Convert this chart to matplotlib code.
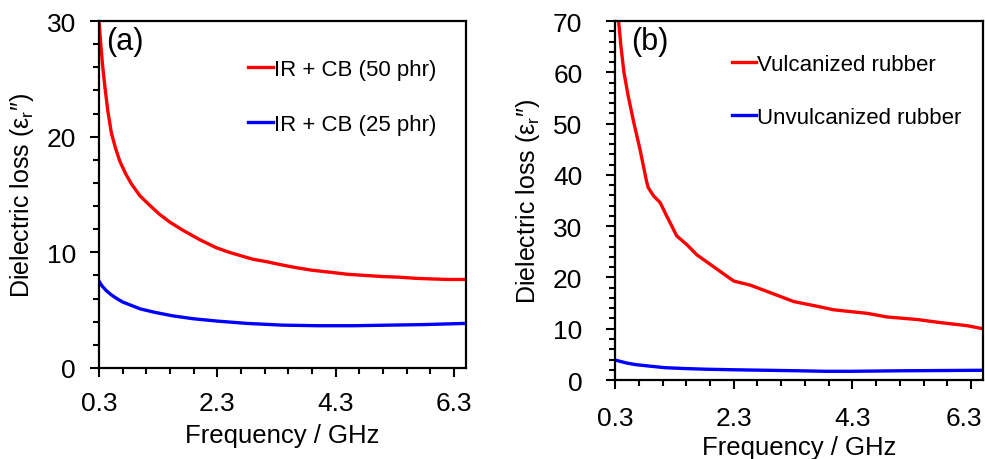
import matplotlib
matplotlib.use("Agg")
import matplotlib.pyplot as plt
from matplotlib.ticker import MultipleLocator, FixedLocator
from matplotlib.transforms import ScaledTranslation

plt.rcParams['font.family'] = ['Liberation Sans', 'DejaVu Sans']
plt.rcParams['mathtext.fontset'] = 'custom'
plt.rcParams['mathtext.rm'] = 'Liberation Sans'
plt.rcParams['mathtext.it'] = 'Liberation Sans'

# Panel (a)
freq_a_red = [0.30, 0.33, 0.36, 0.40, 0.45, 0.51, 0.58, 0.65, 0.75, 0.85, 0.99, 1.15, 1.32, 1.50, 1.72, 2.00, 2.28,
              2.50, 2.70, 2.90, 3.12, 3.40, 3.60, 3.90, 4.25, 4.50, 4.80, 5.10, 5.37, 5.65, 5.90, 6.20, 6.49]
loss_a_red = [30.0, 28.0, 26.2, 24.3, 22.2, 20.3, 19.0, 17.9, 16.8, 15.9, 14.9, 14.1, 13.3, 12.6, 11.9, 11.1, 10.4,
              10.0, 9.7, 9.4, 9.2, 8.9, 8.7, 8.45, 8.25, 8.1, 8.0, 7.9, 7.85, 7.75, 7.7, 7.65, 7.65]
freq_a_blue = [0.30, 0.35, 0.42, 0.50, 0.60, 0.70, 0.80, 0.90, 1.00, 1.25, 1.55, 1.90, 2.30, 2.80, 3.40, 4.00,
               4.60, 5.20, 5.80, 6.49]
loss_a_blue = [7.5, 7.1, 6.7, 6.35, 6.0, 5.7, 5.5, 5.3, 5.1, 4.8, 4.5, 4.25, 4.05, 3.85, 3.7, 3.65,
               3.65, 3.7, 3.75, 3.85]

# Panel (b)
freq_b_red = [0.36, 0.40, 0.45, 0.52, 0.62, 0.72, 0.80, 0.83, 0.86, 0.95, 1.06, 1.17, 1.34, 1.51, 1.68, 2.02, 2.30,
              2.58, 2.97, 3.31, 3.70, 3.98, 4.55, 4.88, 5.39, 5.78, 6.23, 6.50]
loss_b_red = [70.0, 65.0, 60.0, 55.5, 50.0, 45.0, 40.5, 38.8, 37.5, 35.9, 34.6, 32.0, 28.1, 26.4, 24.4, 21.6, 19.3,
              18.5, 16.8, 15.3, 14.4, 13.7, 13.0, 12.3, 11.8, 11.2, 10.6, 10.0]
freq_b_blue = [0.30, 0.40, 0.50, 0.65, 0.89, 1.15, 1.45, 1.85, 2.30, 2.85, 3.40, 3.85, 4.27, 4.70, 5.10, 5.80, 6.50]
loss_b_blue = [3.9, 3.6, 3.3, 3.0, 2.7, 2.4, 2.25, 2.1, 2.0, 1.9, 1.8, 1.7, 1.7, 1.75, 1.8, 1.85, 1.9]

xticks = [0.3, 2.3, 4.3, 6.3]
red = '#ff0000'
blue = '#0000ff'

fig = plt.figure(figsize=(9.85, 4.6), dpi=100)
ax_a = fig.add_axes([0.1005, 0.198, 0.3725, 0.754])
ax_b = fig.add_axes([0.6244, 0.1717, 0.3736, 0.7803])

def style(ax, ymax, ymajor, xpad, ypad, xlabelpad, ylabelpad):
    ax.set_xlim(0.3, 6.5)
    ax.set_ylim(0, ymax)
    ax.xaxis.set_major_locator(FixedLocator(xticks))
    ax.set_xticklabels([f"{t:.1f}" for t in xticks])
    ax.xaxis.set_minor_locator(FixedLocator([0.3 + 0.4 * i for i in range(17) if i % 5 != 0]))
    ax.yaxis.set_major_locator(MultipleLocator(ymajor))
    ax.yaxis.set_minor_locator(MultipleLocator(2))
    ax.tick_params(which='both', direction='out', width=1.5, labelsize=19, colors='black')
    ax.tick_params(which='major', length=6.5)
    ax.tick_params(which='minor', length=4)
    ax.tick_params(axis='x', which='major', pad=xpad)
    ax.tick_params(axis='y', which='major', pad=ypad)
    for s in ax.spines.values():
        s.set_linewidth(1.6)
    ax.set_xlabel('Frequency / GHz', fontsize=18.5, labelpad=xlabelpad)
    ax.set_ylabel('Dielectric loss (ε$_\\mathregular{r}$″)', fontsize=18, labelpad=ylabelpad)

ax_a.plot(freq_a_red, loss_a_red, color=red, lw=2.4, label='IR + CB (50 phr)')
ax_a.plot(freq_a_blue, loss_a_blue, color=blue, lw=2.4, label='IR + CB (25 phr)')
style(ax_a, 30, 10, xpad=10, ypad=10, xlabelpad=6, ylabelpad=8)
ax_a.text(0.02, 0.985, '(a)', transform=ax_a.transAxes, fontsize=22, va='top', ha='left')
ax_a.legend(loc='upper left', bbox_to_anchor=(0.365, 0.935), frameon=False, fontsize=16,
            handlelength=1.1, handletextpad=0.05, labelspacing=1.5, borderaxespad=0.3)

ax_b.plot(freq_b_red, loss_b_red, color=red, lw=2.4, label='Vulcanized rubber')
ax_b.plot(freq_b_blue, loss_b_blue, color=blue, lw=2.4, label='Unvulcanized rubber')
style(ax_b, 70, 10, xpad=12, ypad=17, xlabelpad=3.5, ylabelpad=8)
ax_b.text(0.045, 0.985, '(b)', transform=ax_b.transAxes, fontsize=22, va='top', ha='left')
ax_b.legend(loc='upper left', bbox_to_anchor=(0.275, 0.952), frameon=False, fontsize=16,
            handlelength=1.1, handletextpad=0.05, labelspacing=1.45, borderaxespad=0.3)

# keep the last x tick label of panel (b) inside the figure
last = ax_b.get_xticklabels()[-1]
last.set_transform(last.get_transform() + ScaledTranslation(-5 / 72, 0, fig.dpi_scale_trans))

fig.savefig('out.png', dpi=100)
